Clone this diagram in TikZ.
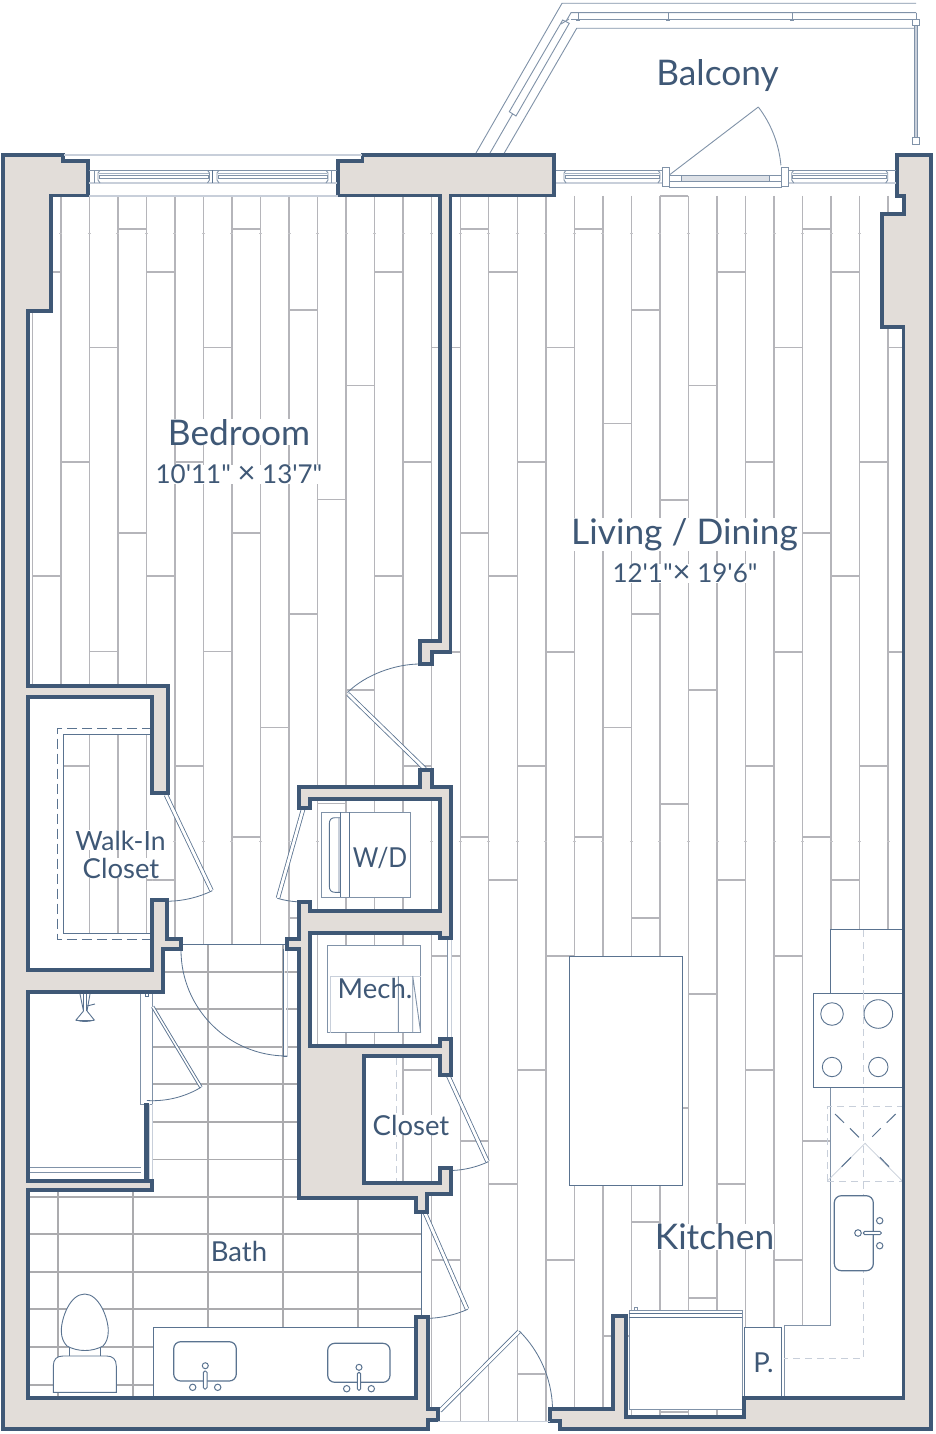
\documentclass[tikz,border=0pt]{standalone}
\usepackage{fontspec}
\setmainfont{Lato}
\newfontfamily\labelfont{Lato}
\definecolor{wallc}{HTML}{3F5876}
\definecolor{wallf}{HTML}{E2DDD9}
\definecolor{steelc}{HTML}{5A7390}
\definecolor{winc}{HTML}{8092A8}
\definecolor{lightc}{HTML}{C8CFDA}
\definecolor{panelc}{HTML}{A3B1C2}
\definecolor{glassc}{HTML}{DDE1E7}
\definecolor{plankc}{HTML}{B5B5BA}
\definecolor{tickc}{HTML}{C4C4C8}
\definecolor{tilec}{HTML}{ABABAE}
\tikzset{
  wallshape/.style={draw=wallc,fill=wallf,line width=3.3pt,line join=miter},
  plank/.style={draw=plankc,line width=1.4pt},
  tick/.style={draw=tickc,line width=.7pt},
  tile/.style={draw=tilec,line width=1.2pt},
  thinline/.style={draw=steelc,line width=.9pt},
  fixture/.style={draw=steelc,line width=1.2pt,fill=white},
  railline/.style={draw=winc,line width=.9pt},
  lightline/.style={draw=lightc,line width=1.5pt},
  lightdash/.style={draw=lightc,line width=1pt,dash pattern=on 7pt off 5pt},
  leaf/.style={draw=steelc,line width=.8pt,double=white,double distance=2.8pt},
  swing/.style={draw=steelc,line width=.8pt},
  darkdash/.style={draw=steelc,line width=1pt},
  biglabel/.style={text=wallc,fill=white,inner sep=0pt,anchor=base,font=\labelfont\fontsize{35.3}{40}\selectfont},
  dimlabel/.style={text=wallc,fill=white,inner sep=0pt,anchor=base,font=\labelfont\fontsize{26}{32}\selectfont},
  smalllabel/.style={text=wallc,fill=white,inner sep=0pt,anchor=base,font=\labelfont\fontsize{27.5}{32}\selectfont},
}
\newcommand{\winframe}[2]{%
  \draw[railline] (#1,170.3) -- (#2,170.3);
  \draw[lightline] (#1,183) -- (#2,183);
}
\newcommand{\winpanel}[2]{%
  \draw[draw=panelc,line width=1.2pt] (#1,173.6) -- (#2,173.6);
  \draw[draw=winc,line width=.8pt,fill=white] (#1,175.6) rectangle (#2,178.8);
  \draw[railline] (#1+1,170.3) -- (#1-1,173) -- (#1-1,180) -- (#1+1,183);
  \draw[railline] (#2-1,170.3) -- (#2+1,173) -- (#2+1,180) -- (#2-1,183);
}
\newcommand{\bigtimes}{{\fontsize{31}{32}\selectfont ×}}
\begin{document}
\begin{tikzpicture}[x=1pt,y=-1pt]
\useasboundingbox (0,0) rectangle (936,1434);
\fill[white] (0,0) rectangle (936,1434);

% ---------- plank floor
\foreach \k in {-1,...,29}{
  \pgfmathsetmacro\xa{60.8+28.53*\k}
  \draw[plank] (\xa,196) -- (\xa,1421);
  \draw[tick] (\xa-1.5,233.3) -- (\xa+1.5,233.3);
  \draw[tick] (\xa-1.5,841.3) -- (\xa+1.5,841.3);
}
\foreach \k/\ys in {-1/{272,576},0/{462,766},1/{347.3,651.7},2/{229,533,837},3/{272,576,880},
  4/{462,766},5/{347.3,651.7},6/{229,533,837},7/{423.3,727.7},8/{310,614,918},9/{499.7,803.7},
  10/{385.3,690},11/{272,576,880},12/{462,766,1070},13/{347.3,652,956,1260},14/{229,533,837,1141},
  15/{272,576,880,1184},16/{462,766,1070,1374},17/{347.3,652,956,1260},18/{229,533,837},
  19/{423.3,727.7,1336},20/{310,614,918,1222},21/{196,500,804,1108,1412},22/{385.3,690,994,1298},
  23/{272,576,880,1184},24/{462,766,1070},25/{347.3,652,956,1260},26/{229,533,837,1141},
  27/{272,576,880},28/{462,766},29/{347.3,652}}{
  \pgfmathsetmacro\xa{60.8+28.53*\k}
  \pgfmathsetmacro\xb{\xa+28.53}
  \foreach \y in \ys { \draw[plank] (\xa,\y) -- (\xb,\y); }
}

% ---------- areas without planks
\fill[white,even odd rule] (28,697) rectangle (152,970) (63.3,734.3) rectangle (152,933.3);
\fill[white] (163,944.3) -- (299,944.3) -- (299,1198) -- (416,1198) -- (416,1212) -- (421.6,1212) -- (421.6,1317) -- (416,1317) -- (416,1398) -- (28,1398) -- (28,992) -- (163,992) -- cycle;
\fill[white] (364,1056) rectangle (400,1183);

% ---------- bath tile
\foreach \y in {972,1009,1047,1084,1122,1159.5}{ \draw[tile] (152,\y) -- (299,\y); }
\foreach \y in {1197,1234,1272,1309}{ \draw[tile] (28,\y) -- (421.6,\y); }
\foreach \y in {1347,1385}{ \draw[tile] (28,\y) -- (153,\y); }
\foreach \x in {208,283}{ \draw[tile] (\x,944.3) -- (\x,1327); }
\draw[tile] (358,1198) -- (358,1327);
\foreach \x in {58,133}{ \draw[tile] (\x,1190) -- (\x,1398); }
\draw[thinline] (421.6,1212) -- (421.6,1317);

% ---------- shower
\fill[white] (28,992) rectangle (141,1181);
\draw[draw=winc,line width=1pt,fill=white] (140.7,992) rectangle (152.3,1104);
\draw[draw=lightc,line width=1pt] (149.8,1104) -- (149.8,1181);
\draw[draw=lightc,line width=1pt] (152.3,1104) -- (152.3,1181);
\draw[draw=winc,line width=1pt] (30,1167.7) -- (141,1167.7);
\draw[draw=winc,line width=1pt] (30,1172.7) -- (141,1172.7);
\fill[wallc] (144,1103) rectangle (149,1181);
\draw[thinline] (80,994) -- (83.5,1011) -- (76,1020) .. controls (82,1022) and (88,1022) .. (94.3,1020) -- (87,1011) -- (90,994);
\draw[thinline] (83.5,994) -- (83.5,1011) (86.5,994) -- (86.5,1011);
\draw[thinline] (87,1006) -- (95,1004);
\draw[thinline] (76,1020) -- (94.3,1020);
\draw[thinline,fill=white] (145.3,993) rectangle (148.3,996);

% ---------- closet shelf lines
\draw[draw=steelc,line width=.9pt,dash pattern=on 10pt off 5pt] (152,728.3) -- (57.3,728.3) -- (57.3,939) -- (152,939);
\draw[thinline] (152,734.3) -- (63.3,734.3) -- (63.3,933.3) -- (152,933.3);
\draw[lightdash] (396.7,1058) -- (396.7,1183);

% ---------- appliances and fixtures
\draw[draw=winc,line width=1pt,fill=white] (321.7,812.3) rectangle (410.7,897.3);
\draw[thinline] (340.7,812.3) -- (340.7,897.3) (349.3,812.3) -- (349.3,897.3);
\draw[draw=lightc,line width=1.2pt] (339,817.7) -- (339,892.3);
\draw[thinline] (340,817.7) -- (335,817.7) .. controls (331,817.7) and (329.3,820) .. (329.3,824) -- (329.3,886) .. controls (329.3,890) and (331,892.3) .. (335,892.3) -- (340,892.3);

\draw[draw=winc,line width=1pt,fill=white] (327.3,945.3) rectangle (420.7,1032.7);
\draw[draw=lightc,line width=1pt] (330,976) -- (420.7,976) (330,976) -- (330,1032.7);
\draw[draw=winc,line width=.9pt] (398.3,976) -- (398.3,1032.7) (412.7,976) -- (412.7,1032.7) (412.7,976) -- (420.7,1032.7);
\fill[white] (447,939) rectangle (451.7,1039);
\draw[railline] (447,939) -- (447,1039);
\draw[draw=lightc,line width=1pt] (451.7,939) -- (451.7,1039);

% island
\draw[thinline,fill=white] (569.3,956.3) rectangle (682.3,1185.3);

% kitchen counter
\fill[white] (830,929.5) -- (903,929.5) -- (903,1398) -- (784.3,1398) -- (784.3,1325) -- (830,1325) -- cycle;
\draw[thinline] (903,929.5) -- (830,929.5) -- (830,993);
\draw[draw=winc,line width=1pt] (830,1087) -- (830,1325) -- (784.3,1325) -- (784.3,1398);
\draw[lightdash] (863.3,930) -- (863.3,1358.3) -- (784.3,1358.3);
\draw[thinline,fill=white] (813.3,993.3) rectangle (902.3,1087.3);
\draw[lightdash] (863.3,993.3) -- (863.3,1087.3);
\draw[fixture,line width=.9pt] (832,1014) circle[radius=11.3];
\draw[fixture,line width=.9pt] (878.3,1014) circle[radius=14.3];
\draw[fixture,line width=.9pt] (832,1067) circle[radius=9.7];
\draw[fixture,line width=.9pt] (878.3,1067) circle[radius=9.7];
\draw[lightdash] (827.3,1181) -- (827.3,1106.7) -- (902.3,1106.7);
\draw[lightdash] (827.3,1181) -- (902.3,1181);
\draw[draw=lightc,line width=.8pt] (827.3,1181) -- (865,1143.3) -- (902.3,1181);
\draw[darkdash] (835,1114) -- (844,1122.7) (850,1128.3) -- (859,1137.3);
\draw[darkdash] (895.7,1114) -- (886.7,1122.7) (880.7,1128.3) -- (872.3,1136.7);
\draw[darkdash] (851,1157.3) -- (841.7,1166.7) (880,1157.3) -- (889,1166.7);
\draw[fixture,rounded corners=7pt] (834.3,1195.7) rectangle (873.3,1270.7);
\draw[fixture,line width=1pt] (858,1233) circle[radius=3.3];
\draw[fixture,line width=1pt,rounded corners=1.5pt] (863.3,1231.3) rectangle (881.3,1234.7);
\draw[fixture,line width=1pt] (879.7,1220.7) circle[radius=3.2];
\draw[fixture,line width=1pt] (879.7,1245.7) circle[radius=3.2];

% fridge and pantry
\draw[draw=winc,line width=1pt,fill=white] (629,1310) rectangle (742,1409);
\draw[thinline] (629,1313) -- (742,1313);
\draw[thinline] (629,1317) -- (742,1317);
\draw[draw=winc,line width=.8pt,fill=white] (634,1307) rectangle (637,1310);
\draw[thinline,fill=white] (744,1327) rectangle (781.7,1398);

% bath counter, sinks, toilet
\draw[thinline,fill=white] (153,1398) -- (153,1327) -- (416,1327);
\fill[white] (153.5,1327.5) rectangle (416,1398);
\draw[fixture,rounded corners=7pt] (173.7,1341.7) rectangle (236.3,1381);
\draw[fixture,line width=1pt] (205.3,1365.7) circle[radius=3];
\draw[fixture,line width=1pt,rounded corners=1.5pt] (203.3,1371) rectangle (207,1389);
\draw[fixture,line width=1pt] (192.7,1387.3) circle[radius=3.2];
\draw[fixture,line width=1pt] (217.7,1387.3) circle[radius=3.2];
\draw[fixture,rounded corners=7pt] (327.7,1343.3) rectangle (390,1382.3);
\draw[fixture,line width=1pt] (359,1367.3) circle[radius=3];
\draw[fixture,line width=1pt,rounded corners=1.5pt] (357.3,1372.3) rectangle (360.7,1390.3);
\draw[fixture,line width=1pt] (346.7,1388.7) circle[radius=3.2];
\draw[fixture,line width=1pt] (371.3,1388.7) circle[radius=3.2];
\draw[thinline,fill=white] (69,1345) rectangle (100.7,1358);
\draw[thinline,fill=white] (53.3,1392.3) -- (53.3,1366) .. controls (53.3,1359) and (57,1356) .. (63,1356) -- (106.6,1356) .. controls (112.6,1356) and (116.3,1359) .. (116.3,1366) -- (116.3,1392.3) -- cycle;
\draw[thinline,fill=white] (84.7,1294) .. controls (70,1294) and (61.3,1318) .. (61.3,1331) .. controls (61.3,1338) and (64,1343) .. (67,1346) .. controls (78,1352) and (92,1352) .. (103,1346) .. controls (106,1343) and (108.3,1338) .. (108.3,1331) .. controls (108.3,1318) and (99,1294) .. cycle;

% ---------- doors
\draw[thinline] (181,944.3) -- (287,944.3);
\draw[thinline,fill=white] (283.7,949) -- (283.7,1056.5) -- (287.7,1056.5);
\draw[draw=lightc,line width=1pt] (287.7,949) -- (287.7,1056.5);
\draw[swing] (181,950) arc[start angle=180,end angle=90,radius=106];
\draw[leaf] (425,769) -- (348,694);
\draw[swing] (347.5,692.5) .. controls (365,675) and (395,664) .. (420,664);
\draw[leaf] (166,795) -- (211.5,890.5);
\draw[swing] (212.3,890.7) arc[start angle=64.2,end angle=89,radius=106];
\draw[leaf] (303,809.5) -- (278,898);
\draw[swing] (277.3,898.3) arc[start angle=106.2,end angle=93,radius=92.7];
\draw[leaf] (448.3,1076) -- (487.5,1161.5);
\draw[swing] (488.3,1161.7) arc[start angle=65,end angle=88,radius=94.6];
\draw[leaf] (425,1213) -- (467,1309);
\draw[swing] (467.7,1309.3) arc[start angle=66,end angle=88,radius=105.3];
\draw[leaf] (440,1410.7) -- (519,1331.5);
\draw[swing] (519.3,1331) arc[start angle=-45.2,end angle=-2,radius=112.6];
\draw[draw=steelc,line width=.9pt,double=white,double distance=1.6pt] (152.7,1006.7) -- (201,1087.3);
\draw[swing] (201,1087.3) arc[start angle=59,end angle=93.6,radius=93.7];

% ---------- walls
\draw[wallshape] (3,155) -- (63,155) -- (63,161) -- (88,161) -- (88,195.5) -- (51,195.5) -- (51,311) -- (28,311) -- (28,686) -- (168,686) -- (168,793) -- (152,793) -- (152,697) -- (28,697) -- (28,970) -- (152,970) -- (152,900) -- (167,900) -- (167,939) -- (181,939) -- (181,949) -- (163,949) -- (163,992) -- (28,992) -- (28,1181) -- (152,1181) -- (152,1190) -- (28,1190) -- (28,1398) -- (416,1398) -- (416,1317) -- (428,1317) -- (428,1409) -- (438,1409) -- (438,1420) -- (428,1420) -- (428,1429) -- (3,1429) -- cycle;
\draw[wallshape] (338,161) -- (362.5,161) -- (362.5,155) -- (554,155) -- (554,195.5) -- (450.5,195.5) -- (450.5,652) -- (432,652) -- (432,664) -- (420,664) -- (420,641) -- (440,641) -- (440,195.5) -- (338,195.5) -- cycle;
\draw[wallshape] (420,770) -- (432,770) -- (432,787) -- (451,787) -- (451,938) -- (440,938) -- (440,933) -- (310,933) -- (310,1046) -- (440,1046) -- (440,1039) -- (451,1039) -- (451,1075) -- (440,1075) -- (440,1056) -- (364,1056) -- (364,1183) -- (440,1183) -- (440,1168) -- (451,1168) -- (451,1194) -- (427,1194) -- (427,1212) -- (416,1212) -- (416,1198) -- (299,1198) -- (299,949) -- (287,949) -- (287,939) -- (299,939) -- (299,902) -- (310,902) -- (310,911) -- (440,911) -- (440,799) -- (310,799) -- (310,808) -- (299,808) -- (299,787) -- (420,787) -- cycle;
\draw[wallshape] (550,1409) -- (613,1409) -- (613,1316) -- (626,1316) -- (626,1417) -- (744,1417) -- (744,1398) -- (903.5,1398) -- (903.5,327) -- (882,327) -- (882,214) -- (904,214) -- (904,196) -- (897,196) -- (897,155) -- (931,155) -- (931,1429) -- (560,1429) -- (560,1421) -- (550,1421) -- cycle;
\draw[draw=lightc,line width=1pt] (438,1421) -- (550,1421);

% ---------- bedroom window
\draw[lightline] (64,155) -- (362,155);
\draw[lightline] (89,196) -- (338,196);
\winframe{89}{337}
\draw[railline] (94.5,170.3) -- (94.5,183) (331.5,170.3) -- (331.5,183);
\draw[draw=steelc,line width=.9pt] (212.7,170.3) -- (212.7,183);
\winpanel{99}{208.5}
\winpanel{218}{327}

% ---------- living windows and balcony door
\winframe{556}{662.7}
\winframe{788.3}{896}
\winpanel{565}{659}
\winpanel{792.7}{886.7}
\draw[railline,fill=white] (662.7,167) rectangle (669.3,186.7);
\draw[railline,fill=white] (781.7,167) rectangle (788.3,186.7);
\draw[railline] (669.3,175.7) -- (781.7,175.7) -- (781.7,187.3) -- (669.3,187.3) -- cycle;
\draw[railline] (669.3,181.3) -- (781.7,181.3);
\draw[railline,fill=glassc] (681,175.7) rectangle (769.3,181.3);
\draw[railline] (669.3,175) -- (758.3,107);
\draw[railline] (758.3,107) arc[start angle=-37.4,end angle=-5,radius=112];

% ---------- balcony rail
\draw[railline] (476,153) -- (562,3.3) -- (916,3.3);
\draw[railline] (490,153) -- (571,12.7) -- (916,12.7);
\draw[railline] (504.3,153) -- (576.7,28.3) -- (916,28.3);
\draw[railline] (571,19.3) -- (916,19.3);
\draw[railline,fill=white] (509.3,111.7) -- (516,116) -- (569.3,23.3) -- (562.7,20) -- cycle;
\draw[railline] (561,24) -- (569,19);
\foreach \x in {578,668.3,792.3}{
  \draw[railline] (\x,12.7) -- (\x,20) (\x-2,12.7) -- (\x+2,12.7) (\x-2,20) -- (\x+2,20);
}
\draw[railline] (916,12.7) -- (916,19);
\draw[railline,fill=lightc] (914.3,25.7) rectangle (917.7,137.3);
\draw[railline,fill=white] (912.7,19) rectangle (919.3,25.7);
\draw[railline,fill=white] (912.7,137.3) rectangle (919.3,144);

% ---------- labels
\node[biglabel] (balcony) at (717.5,85.5) {Balcony};
\node[biglabel] (bedroom) at (239,445) {Bedroom};
\node[dimlabel] (bedroomdim) at (239,483.5) {10'11" \bigtimes{} 13'7"};
\node[biglabel] (living) at (684.5,544.3) {Living / Dining};
\node[dimlabel] (livingdim) at (685,582.5) {12'1"\bigtimes{} 19'6"};
\node[smalllabel,font=\labelfont\fontsize{26.5}{32}\selectfont] (walkin) at (120.5,850) {Walk-In};
\node[smalllabel] (walkcloset) at (121,878) {Closet};
\node[smalllabel,xscale=.9] (wd) at (380,867.7) {W/D};
\node[smalllabel,fill=none] (mech) at (375,998.3) {Mech.};
\node[smalllabel] (closet) at (411,1135) {Closet};
\node[smalllabel] (bath) at (239,1261.7) {Bath};
\node[biglabel] (kitchen) at (714.5,1249.5) {Kitchen};
\node[smalllabel] (pantry) at (763.5,1372.7) {P.};
\end{tikzpicture}
\end{document}
